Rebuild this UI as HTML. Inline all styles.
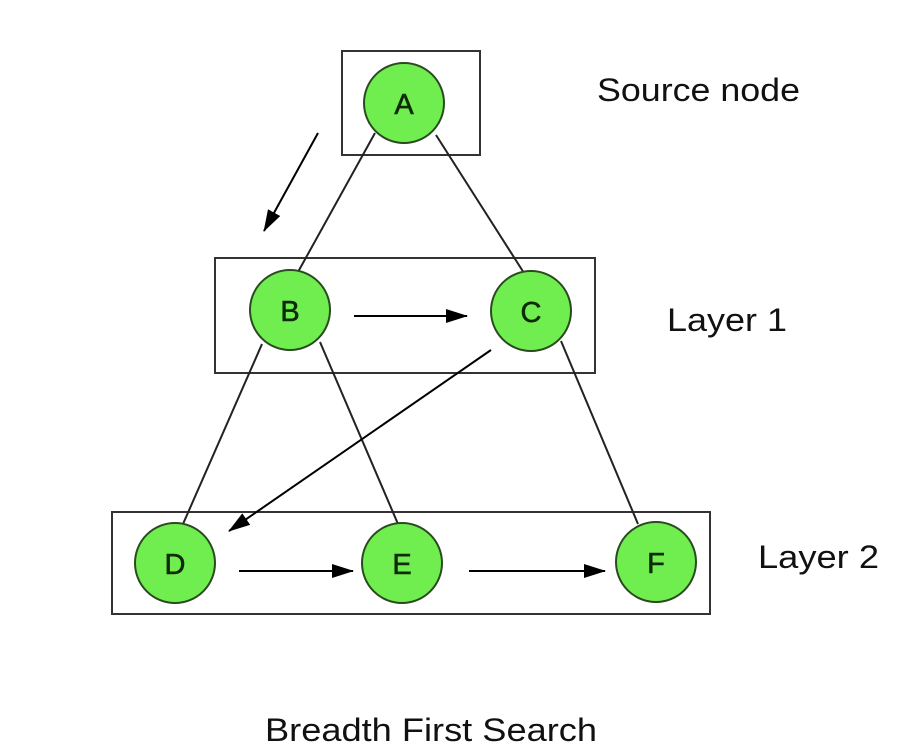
<!DOCTYPE html>
<html><head><meta charset="utf-8"><style>
html,body{margin:0;padding:0;background:#fff;}
svg{display:block}
</style></head><body>
<svg width="914" height="756" viewBox="0 0 914 756" xmlns="http://www.w3.org/2000/svg">
<defs><marker id="ah" markerWidth="22" markerHeight="14" refX="21" refY="7" orient="auto" markerUnits="userSpaceOnUse"><path d="M0,0 L22,7 L0,14 z" fill="#000"/></marker></defs>
<g fill="none" stroke="#333" stroke-width="2">
<rect x="342" y="51" width="138" height="104"/>
<rect x="215" y="258" width="380" height="115"/>
<rect x="112" y="512" width="598" height="102"/>
</g>
<g stroke="#222" stroke-width="2">
<line x1="375" y1="133" x2="298" y2="272"/>
<line x1="436" y1="135" x2="524" y2="273"/>
<line x1="262" y1="344" x2="183" y2="524"/>
<line x1="320" y1="342" x2="398" y2="524"/>
<line x1="561" y1="341" x2="638" y2="524"/>
</g>
<g stroke="#000" stroke-width="2" marker-end="url(#ah)">
<line x1="318" y1="133" x2="264" y2="231"/>
<line x1="354" y1="316" x2="467" y2="316"/>
<line x1="491" y1="350" x2="229" y2="531"/>
<line x1="239" y1="571" x2="353" y2="571"/>
<line x1="469" y1="571" x2="605" y2="571"/>
</g>
<g fill="#70ee50" stroke="#2a4a20" stroke-width="2">
<circle cx="404" cy="103" r="40"/>
<circle cx="290" cy="310" r="40"/>
<circle cx="531" cy="311" r="40"/>
<circle cx="175" cy="563" r="40"/>
<circle cx="402" cy="563" r="40"/>
<circle cx="656" cy="562" r="40"/>
</g>
<g font-family="Liberation Sans, sans-serif" font-size="29" fill="#0f2a08" text-anchor="middle" stroke="#0f2a08" stroke-width="0.6">
<text x="404" y="114">A</text>
<text x="290" y="321">B</text>
<text x="531" y="322">C</text>
<text x="175" y="574">D</text>
<text x="402" y="574">E</text>
<text x="656" y="573">F</text>
</g>
<g font-family="Liberation Sans, sans-serif" font-size="32" fill="#111">
<text x="597" y="101" textLength="203" lengthAdjust="spacingAndGlyphs">Source node</text>
<text x="667" y="331" textLength="120" lengthAdjust="spacingAndGlyphs">Layer 1</text>
<text x="758" y="568" textLength="121" lengthAdjust="spacingAndGlyphs">Layer 2</text>
<text x="265" y="741" textLength="332" lengthAdjust="spacingAndGlyphs">Breadth First Search</text>
</g>
</svg>
</body></html>
